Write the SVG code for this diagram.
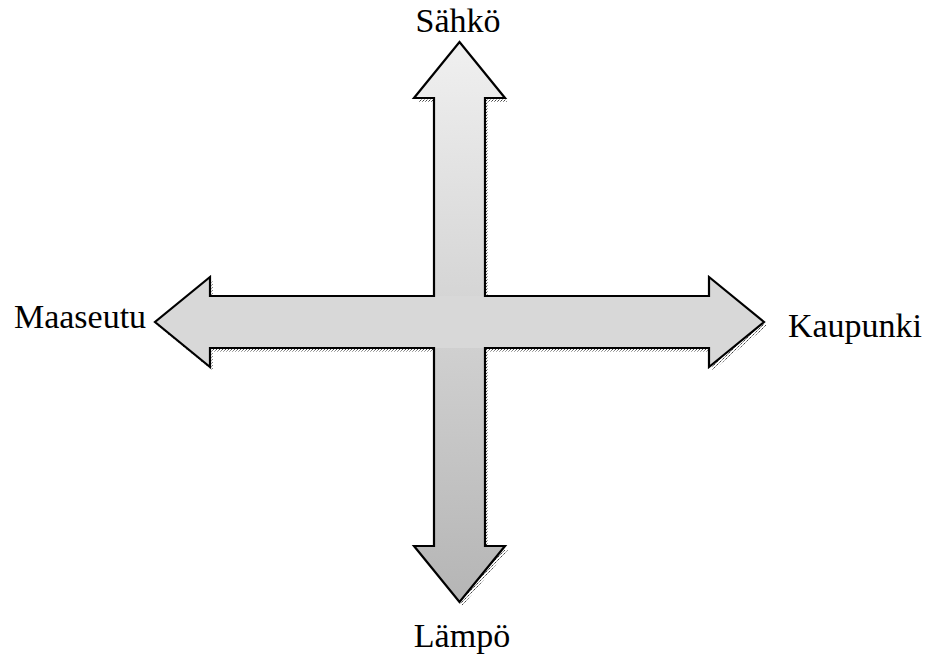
<svg xmlns="http://www.w3.org/2000/svg" width="929" height="661" viewBox="0 0 929 661">
<style>
.lbl{font-family:"Times New Roman","Liberation Serif",Times,"Nimbus Roman","Nimbus Roman No9 L","DejaVu Serif","Noto Serif",serif;font-size:34px;fill:#000;text-anchor:middle}
.outline{fill:none;stroke:#000;stroke-width:2.2;stroke-linejoin:miter}
</style>
<defs>
<linearGradient id="vg" x1="0" y1="42" x2="0" y2="602" gradientUnits="userSpaceOnUse">
<stop offset="0" stop-color="#f0f0f0"/>
<stop offset="1" stop-color="#b5b5b5"/>
</linearGradient>
<pattern id="dots" width="3" height="3" patternUnits="userSpaceOnUse">
<rect x="0" y="0" width="1" height="1" fill="#444"/>
<rect x="2" y="1" width="1" height="1" fill="#888"/>
<rect x="1" y="2" width="1" height="1" fill="#aaa"/>
</pattern>
<path id="cross" d="M459.5,42 L505,98 L485,98 L485,296 L709,296 L709,277 L764,322 L709,367 L709,348 L485,348 L485,546 L505,546 L459.5,602 L414,546 L434,546 L434,348 L210,348 L210,367 L155,322 L210,277 L210,296 L434,296 L434,98 L414,98 Z"/>
</defs>
<rect width="929" height="661" fill="#fff"/>
<g id="connectors">
<use href="#cross" transform="translate(3,4)" fill="url(#dots)"/>
<path id="vertical-arrow" d="M459.5,42 L505,98 L485,98 L485,546 L505,546 L459.5,602 L414,546 L434,546 L434,98 L414,98 Z" fill="url(#vg)"/>
<path id="horizontal-arrow" d="M155,322 L210,277 L210,296 L709,296 L709,277 L764,322 L709,367 L709,348 L210,348 L210,367 Z" fill="#d8d8d8"/>
<use href="#cross" class="outline"/>
</g>
<g id="node-sahko"><text class="lbl" x="458" y="32">Sähkö</text></g>
<g id="node-maaseutu"><text class="lbl" x="80" y="328">Maaseutu</text></g>
<g id="node-kaupunki"><text class="lbl" x="855" y="337">Kaupunki</text></g>
<g id="node-lampo"><text class="lbl" x="462" y="647">Lämpö</text></g>
</svg>
